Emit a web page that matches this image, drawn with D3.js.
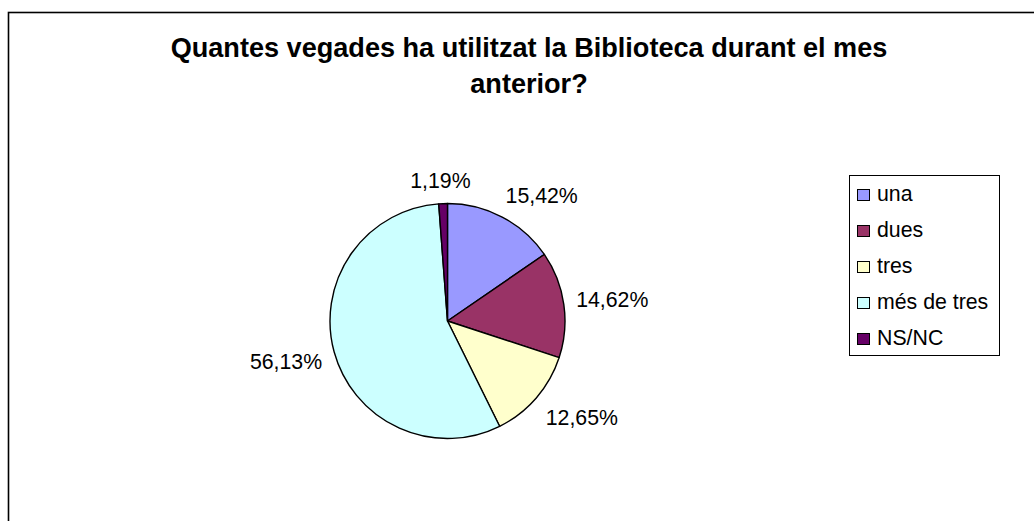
<!DOCTYPE html>
<html>
<head>
<meta charset="utf-8">
<script src="https://cdn.jsdelivr.net/npm/d3@7"></script>
<style>
  html, body { margin: 0; padding: 0; background: #fff; }
  svg { display: block; font-family: "Liberation Sans", Arial, sans-serif; }
</style>
</head>
<body>
<svg id="chart" width="1034" height="521"></svg>
<script>
// Responses to the survey question, in percent
const categories = ["una", "dues", "tres", "més de tres", "NS/NC"];
const percentages = [15.42, 14.62, 12.65, 56.13, 1.19];
const titleLines = ["Quantes vegades ha utilitzat la Biblioteca durant el mes", "anterior?"];

const palette = ["#9999FF", "#993366", "#FFFFCC", "#CCFFFF", "#660066"];

const svg = d3.select("#chart");
const W = 1034, H = 521;

// chart frame (runs past the bottom/right edges)
svg.append("rect")
  .attr("x", 8.5).attr("y", 12.5)
  .attr("width", W + 20).attr("height", H + 20)
  .attr("fill", "#fff").attr("stroke", "#000").attr("stroke-width", 1.6);

// title
svg.append("g").selectAll("text")
  .data(titleLines)
  .join("text")
  .attr("x", 529)
  .attr("y", (d, i) => 56.7 + i * 36.3)
  .attr("text-anchor", "middle")
  .attr("font-weight", "bold")
  .attr("font-size", 27.1)
  .attr("fill", "#000")
  .text(d => d);

// pie
const cx = 447.5, cy = 321, radius = 117.5;
const color = d3.scaleOrdinal().domain(categories).range(palette);
const data = categories.map((c, i) => ({ cat: c, value: percentages[i] }));
const pie = d3.pie().value(d => d.value).sort(null);
const arcs = pie(data);
const arc = d3.arc().innerRadius(0).outerRadius(radius);

const g = svg.append("g").attr("transform", `translate(${cx},${cy})`);
g.selectAll("path")
  .data(arcs)
  .join("path")
  .attr("d", arc)
  .attr("fill", d => color(d.data.cat))
  .attr("stroke", "#000")
  .attr("stroke-width", 1.4)
  .attr("stroke-linejoin", "round");

// value labels, placed just outside each slice
const fmt = v => d3.format(".2f")(v).replace(".", ",") + "%";
const labelR = radius + 12.5;
const halfH = 11;
const clamp = v => Math.max(-1, Math.min(1, v));
g.selectAll("text.val")
  .data(arcs)
  .join("text")
  .attr("class", "val")
  .attr("font-size", 21.3)
  .attr("fill", "#000")
  .attr("text-anchor", "middle")
  .text(d => fmt(d.data.value))
  .each(function (d) {
    const a = (d.startAngle + d.endAngle) / 2;
    const s = Math.sin(a), c = Math.cos(a);
    const w = this.getComputedTextLength();
    const ax = labelR * s, ay = -labelR * c;
    const x = ax + (w / 2) * clamp(2 * s);
    const y = ay - halfH * clamp(2 * c);
    d3.select(this).attr("x", x).attr("y", y + 7.6);
  });

// legend
const legend = svg.append("g");
legend.append("rect")
  .attr("x", 849.5).attr("y", 175.5)
  .attr("width", 150).attr("height", 180)
  .attr("fill", "#fff").attr("stroke", "#000").attr("stroke-width", 1);

const items = legend.selectAll("g.item")
  .data(categories)
  .join("g")
  .attr("class", "item")
  .attr("transform", (d, i) => `translate(0,${201 + i * 36})`);
items.append("rect")
  .attr("x", 857.5).attr("y", -11.5)
  .attr("width", 12).attr("height", 11)
  .attr("fill", d => color(d))
  .attr("stroke", "#000").attr("stroke-width", 1);
items.append("text")
  .attr("x", 877).attr("y", 0)
  .attr("font-size", 21.3)
  .attr("fill", "#000")
  .text(d => d);
</script>
</body>
</html>
